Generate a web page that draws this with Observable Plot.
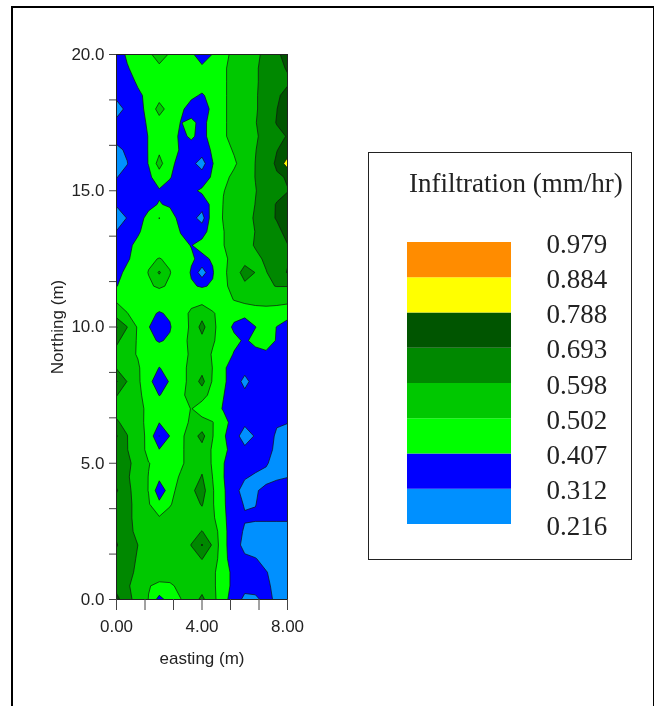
<!DOCTYPE html>
<html><head><meta charset="utf-8">
<script src="https://cdn.jsdelivr.net/npm/d3@7"></script>
<script src="https://cdn.jsdelivr.net/npm/@observablehq/plot@0.6"></script>
<style>
html,body{margin:0;padding:0;background:#fff;width:654px;height:706px;overflow:hidden}
#page{position:relative;width:654px;height:706px;overflow:hidden}
#border{position:absolute;left:11px;top:6px;width:700px;height:800px;border:2px solid #000;box-sizing:border-box}
#edge{position:absolute;left:652.5px;top:6px;width:1.5px;height:700px;background:#000}
#main,#legendPlot{position:absolute;filter:blur(0.45px)}
#main{left:0;top:0}
#legendBox{position:absolute;left:368px;top:152px;width:264px;height:408px;border:1.5px solid #222;box-sizing:border-box;background:#fff}
#legendPlot{left:369px;top:153px}
#legendTitle{position:absolute;left:409px;top:167px;font:27px "Liberation Serif",serif;color:#222;white-space:nowrap;line-height:32px;filter:blur(0.3px)}
svg{display:block}
</style></head><body>
<div id="page"><div id="border"></div><div id="edge"></div><div id="main"></div><div id="legendBox"></div><div id="legendPlot"></div><div id="legendTitle">Infiltration (mm/hr)</div></div>
<script>
// Infiltration, one list per northing (0.5 m steps), eastings 0 to 8 in 0.5 m steps
const n00_0 = [.72,.63,.56,.50,.37,.45,.50,.55,.62,.53,.44,.36,.29,.30,.33,.30,.28];
const n00_5 = [.66,.61,.56,.505,.49,.49,.52,.54,.56,.52,.45,.38,.34,.335,.32,.30,.28];
const n01_0 = [.65,.61,.59,.55,.53,.54,.54,.55,.57,.52,.45,.38,.33,.33,.315,.29,.28];
const n01_5 = [.66,.63,.59,.56,.55,.55,.55,.575,.60,.565,.43,.37,.33,.315,.29,.27,.27];
const n02_0 = [.70,.63,.598,.57,.55,.54,.56,.60,.70,.585,.43,.36,.28,.27,.27,.26,.26];
const n02_5 = [.67,.62,.58,.56,.55,.55,.55,.575,.60,.565,.43,.36,.30,.29,.29,.29,.29];
const n03_0 = [.67,.62,.57,.545,.51,.53,.54,.55,.56,.52,.42,.37,.32,.32,.32,.32,.32];
const n03_5 = [.66,.62,.57,.51,.43,.495,.54,.56,.605,.51,.42,.35,.305,.31,.34,.34,.34];
const n04_0 = [.70,.63,.54,.50,.35,.45,.56,.58,.64,.51,.42,.34,.28,.305,.33,.35,.35];
const n04_5 = [.66,.61,.55,.50,.43,.47,.51,.54,.605,.50,.41,.36,.32,.30,.29,.30,.31];
const n05_0 = [.66,.62,.56,.505,.48,.46,.49,.53,.57,.49,.41,.37,.35,.34,.32,.28,.27];
const n05_5 = [.64,.60,.56,.47,.41,.43,.49,.53,.565,.49,.43,.37,.33,.325,.33,.30,.28];
const n06_0 = [.70,.60,.54,.48,.31,.41,.48,.55,.63,.505,.42,.35,.27,.32,.35,.30,.28];
const n06_5 = [.605,.58,.54,.47,.41,.43,.47,.515,.53,.505,.44,.37,.33,.33,.35,.32,.315];
const n07_0 = [.58,.56,.53,.48,.45,.45,.47,.505,.46,.45,.40,.36,.35,.35,.35,.35,.34];
const n07_5 = [.60,.575,.53,.45,.405,.425,.485,.53,.535,.47,.41,.36,.34,.36,.37,.36,.35];
const n08_0 = [.70,.595,.52,.43,.36,.415,.47,.53,.63,.49,.42,.37,.28,.36,.37,.37,.36];
const n08_5 = [.59,.55,.515,.44,.405,.425,.47,.53,.56,.50,.42,.37,.35,.37,.38,.37,.37];
const n09_0 = [.56,.53,.495,.47,.44,.44,.46,.52,.54,.495,.46,.40,.37,.38,.39,.38,.37];
const n09_5 = [.62,.54,.495,.42,.402,.415,.46,.53,.57,.51,.47,.43,.395,.43,.45,.40,.37];
const n10_0 = [.70,.60,.49,.41,.37,.402,.45,.52,.63,.52,.46,.39,.36,.405,.44,.405,.37];
const n10_5 = [.55,.505,.46,.42,.402,.415,.46,.52,.56,.51,.47,.44,.43,.45,.46,.45,.44];
const n11_0 = [.49,.46,.45,.44,.44,.43,.46,.47,.47,.46,.47,.505,.53,.54,.54,.54,.53];
const n11_5 = [.405,.43,.45,.49,.515,.49,.46,.415,.40,.415,.49,.52,.57,.57,.59,.60,.60];
const n12_0 = [.39,.42,.46,.505,.61,.505,.46,.40,.26,.40,.49,.53,.65,.595,.595,.63,.70];
const n12_5 = [.36,.40,.43,.49,.505,.49,.44,.415,.39,.415,.49,.52,.55,.58,.61,.65,.68];
const n13_0 = [.37,.395,.42,.45,.46,.45,.42,.405,.43,.46,.50,.53,.57,.605,.63,.66,.69];
const n13_5 = [.315,.36,.40,.43,.46,.44,.405,.37,.38,.44,.50,.53,.565,.60,.64,.67,.72];
const n14_0 = [.27,.315,.39,.42,.505,.43,.39,.35,.27,.47,.505,.52,.56,.61,.66,.70,.79];
const n14_5 = [.32,.35,.375,.395,.41,.40,.39,.37,.36,.43,.505,.53,.56,.60,.65,.70,.72];
const n15_0 = [.33,.345,.36,.38,.40,.39,.37,.39,.42,.45,.50,.52,.55,.595,.63,.66,.69];
const n15_5 = [.31,.33,.36,.39,.45,.41,.385,.37,.36,.42,.48,.52,.56,.60,.64,.68,.70];
const n16_0 = [.25,.31,.36,.41,.54,.42,.39,.34,.27,.405,.45,.49,.54,.60,.64,.71,.83];
const n16_5 = [.30,.32,.37,.41,.48,.44,.40,.385,.36,.42,.47,.51,.55,.595,.64,.69,.73];
const n17_0 = [.33,.35,.37,.41,.45,.44,.395,.415,.39,.43,.49,.53,.56,.59,.62,.66,.70];
const n17_5 = [.33,.35,.37,.42,.46,.45,.405,.42,.39,.43,.49,.53,.56,.595,.63,.70,.76];
const n18_0 = [.28,.33,.38,.43,.54,.46,.42,.38,.36,.43,.49,.53,.56,.59,.63,.69,.79];
const n18_5 = [.33,.35,.39,.43,.46,.46,.45,.42,.40,.43,.49,.53,.56,.59,.63,.68,.72];
const n19_0 = [.34,.37,.42,.45,.47,.46,.46,.45,.44,.46,.49,.53,.56,.59,.62,.65,.68];
const n19_5 = [.35,.40,.44,.46,.48,.47,.46,.44,.42,.44,.49,.53,.56,.59,.62,.67,.70];
const n20_0 = [.36,.42,.45,.48,.55,.49,.45,.42,.37,.41,.47,.53,.56,.58,.62,.68,.72];
const rows = [n00_0,n00_5,n01_0,n01_5,n02_0,n02_5,n03_0,n03_5,n04_0,n04_5,n05_0,n05_5,n06_0,n06_5,n07_0,n07_5,n08_0,n08_5,n09_0,n09_5,n10_0,n10_5,n11_0,n11_5,n12_0,n12_5,n13_0,n13_5,n14_0,n14_5,n15_0,n15_5,n16_0,n16_5,n17_0,n17_5,n18_0,n18_5,n19_0,n19_5,n20_0];

const levels = [0.216,0.312,0.407,0.502,0.598,0.693,0.788,0.884,0.979];
const levelLabels = ["0.216","0.312","0.407","0.502","0.598","0.693","0.788","0.884","0.979"];
const bandColors = ["#0090ff","#0000ff","#00ff00","#00c800","#008800","#005500","#ffff00","#ff8c00"];

const eastingTicks = [0,4/3,8/3,4,16/3,20/3,8];
const eastingLabels = new Map([[0,"0.00"],[4,"4.00"],[8,"8.00"]]);
const northingTicks = [0,5/3,10/3,5,20/3,25/3,10,35/3,40/3,15,50/3,55/3,20];
const northingLabels = new Map([[0,"0.0"],[5,"5.0"],[10,"10.0"],[15,"15.0"],[20,"20.0"]]);

const main = Plot.plot({
  width:654,height:706,marginLeft:116,marginRight:367,marginTop:54,marginBottom:107,
  style:{background:"transparent",fontFamily:"'Liberation Sans',Arial,sans-serif",color:"#222"},
  x:{domain:[0,8]},y:{domain:[0,20]},
  color:{type:"threshold",domain:levels.slice(1),range:bandColors},
  marks:[
    Plot.contour(rows.flat(),{width:n00_0.length,height:rows.length,x1:-0.25,x2:8.25,y1:-0.25,y2:20.25,
      fill:Plot.identity,thresholds:levels,stroke:"#111",strokeWidth:0.7,clip:true}),
    Plot.frame({stroke:"#222",strokeWidth:1}),
    Plot.axisX({ticks:eastingTicks,tickSize:11,tickPadding:9,fontSize:17,stroke:"#444",
      tickFormat:d=>eastingLabels.get(d)??"",label:"easting (m)",labelAnchor:"center",labelArrow:"none",labelOffset:64}),
    Plot.axisY({ticks:northingTicks,tickSize:7,tickPadding:5,fontSize:17,stroke:"#444",
      tickFormat:d=>northingLabels.get(d)??"",label:"Northing (m)",labelAnchor:"center",labelArrow:"none",labelOffset:66,labelRotate:-90})
  ]
});
document.getElementById("main").append(main);

const bandIndex = d3.range(bandColors.length);
const legend = Plot.plot({
  width:263,height:407,marginLeft:38,marginRight:121,marginTop:89,marginBottom:36,
  style:{background:"transparent"},
  x:{domain:[0,1],axis:null},y:{domain:[0,8],axis:null},
  marks:[
    Plot.rectY(bandIndex,{x1:0,x2:1,y1:d=>d,y2:d=>d+1,fill:d=>bandColors[d],inset:0}),
    Plot.text(levelLabels,{x:1,y:(d,i)=>i,text:d=>d,textAnchor:"start",dx:35,dy:1.5,
      fontSize:27,fontFamily:"'Liberation Serif',serif",fill:"#222"})
  ]
});
document.getElementById("legendPlot").append(legend);
</script>
</body></html>
